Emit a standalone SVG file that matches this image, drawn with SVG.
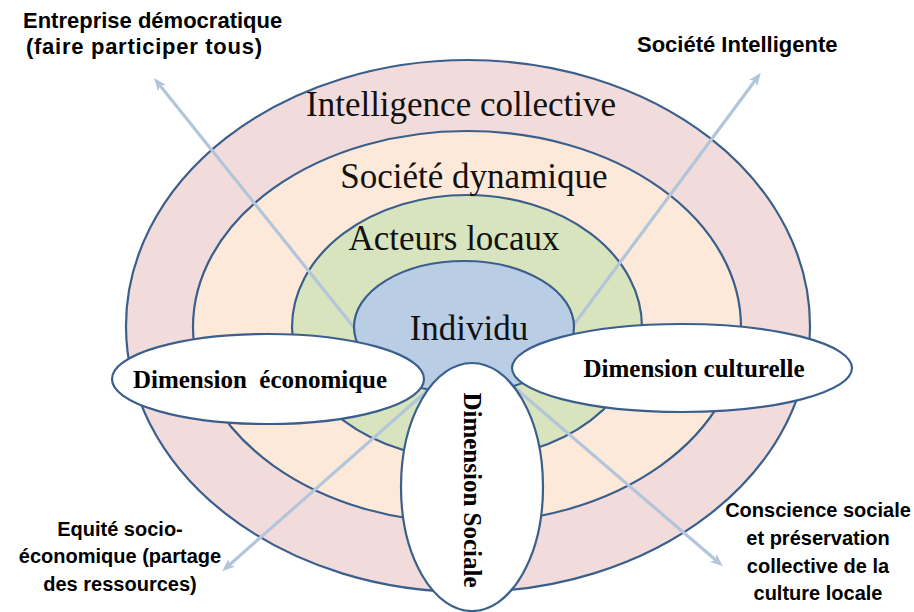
<svg xmlns="http://www.w3.org/2000/svg" width="914" height="612" viewBox="0 0 914 612">
  <defs>
    <style>
      .ring { stroke: #3b5f8c; stroke-width: 2.2; }
      .dim { fill: #ffffff; stroke: #3b5f8c; stroke-width: 2.2; }
      .layer { font-family: "Liberation Serif", "Times New Roman", serif; font-size: 35px; fill: #111; text-anchor: middle; }
      .dimt { font-family: "Liberation Serif", "Times New Roman", serif; font-size: 25px; font-weight: bold; fill: #000; text-anchor: middle; white-space: pre; }
      .lbl { font-family: "Liberation Sans", Arial, sans-serif; font-weight: bold; fill: #000; }
      .arrow { stroke: #b3c5da; stroke-width: 3.2; fill: none; marker-end: url(#ah); }
    </style>
    <marker id="ah" viewBox="0 0 10 10" refX="5" refY="5" markerWidth="4" markerHeight="4" orient="auto" markerUnits="strokeWidth">
      <path d="M0,1 L10,5 L0,9 L2.5,5 Z" fill="#b3c5da"/>
    </marker>
  </defs>

  <g id="ring-intelligence">
    <ellipse class="ring" cx="468" cy="326" rx="342" ry="266" fill="#f2dcdb"/>
  </g>
  <g id="ring-societe">
    <ellipse class="ring" cx="467" cy="327" rx="274" ry="196" fill="#fde9d9"/>
  </g>
  <g id="ring-acteurs">
    <ellipse class="ring" cx="467" cy="327" rx="175" ry="132" fill="#d7e4bd"/>
  </g>

  <g id="connectors">
    <line class="arrow" x1="380" y1="360" x2="158" y2="83"/>
    <line class="arrow" x1="555" y1="350" x2="757" y2="78"/>
    <line class="arrow" x1="445" y1="375" x2="227" y2="567"/>
    <line class="arrow" x1="500" y1="375" x2="718" y2="562"/>
  </g>

  <g id="ring-individu">
    <ellipse class="ring" cx="464" cy="327" rx="110" ry="66" fill="#b9cde5"/>
  </g>

  <g id="layer-labels">
    <text class="layer" x="461" y="116">Intelligence collective</text>
    <text class="layer" x="474" y="188">Société dynamique</text>
    <text class="layer" x="454" y="250">Acteurs locaux</text>
    <text class="layer" x="469" y="340">Individu</text>
  </g>

  <g id="dim-economique">
    <ellipse class="dim" cx="268" cy="379" rx="156" ry="45"/>
    <text class="dimt" x="260" y="388">Dimension  économique</text>
  </g>
  <g id="dim-culturelle">
    <ellipse class="dim" cx="682" cy="368" rx="170" ry="44"/>
    <text class="dimt" x="694" y="377">Dimension culturelle</text>
  </g>
  <g id="dim-sociale">
    <ellipse class="dim" cx="472" cy="487" rx="71" ry="124"/>
    <text class="dimt" transform="translate(464,490) rotate(90)" x="0" y="0">Dimension Sociale</text>
  </g>

  <g id="label-entreprise">
    <text class="lbl" x="23" y="28" font-size="22">Entreprise démocratique</text>
    <text class="lbl" x="26" y="54" font-size="22" textLength="236" lengthAdjust="spacing">(faire participer tous)</text>
  </g>
  <g id="label-societe-intelligente">
    <text class="lbl" x="637" y="52" font-size="22">Société Intelligente</text>
  </g>
  <g id="label-equite">
    <text class="lbl" x="120" y="536" font-size="20" text-anchor="middle">Equité socio-</text>
    <text class="lbl" x="120" y="563" font-size="20" text-anchor="middle">économique (partage</text>
    <text class="lbl" x="120" y="591" font-size="20" text-anchor="middle">des ressources)</text>
  </g>
  <g id="label-conscience">
    <text class="lbl" x="818" y="517" font-size="20" text-anchor="middle">Conscience sociale</text>
    <text class="lbl" x="818" y="545" font-size="20" text-anchor="middle">et préservation</text>
    <text class="lbl" x="818" y="573" font-size="20" text-anchor="middle">collective de la</text>
    <text class="lbl" x="818" y="600" font-size="20" text-anchor="middle">culture locale</text>
  </g>
</svg>
